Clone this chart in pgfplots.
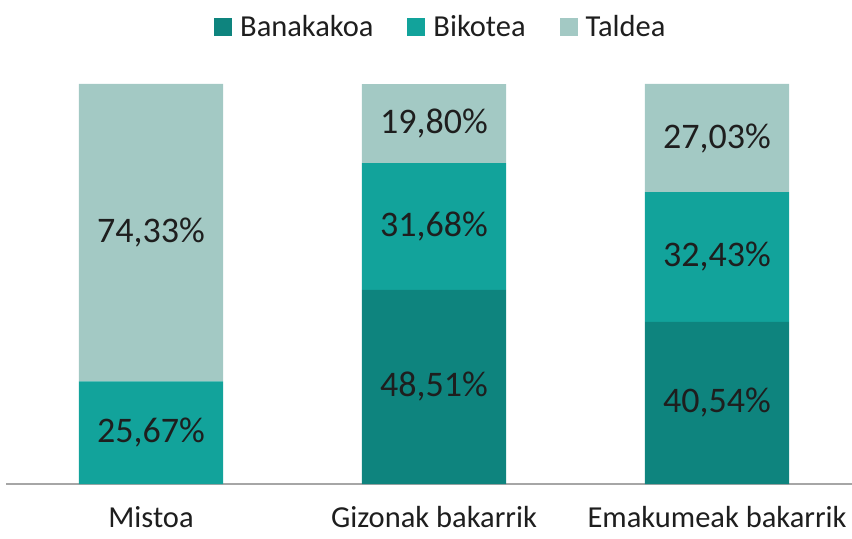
\documentclass[border=0pt]{standalone}
\usepackage{pgfplots}
\pgfplotsset{compat=1.18}
\usepackage{pgfplotstable}
\usepackage{fontspec}
\setmainfont{Carlito}
\definecolor{cBan}{RGB}{14,132,126}
\definecolor{cBik}{RGB}{18,163,155}
\definecolor{cTal}{RGB}{163,201,196}
\definecolor{ctext}{RGB}{30,30,30}
\definecolor{caxis}{RGB}{166,166,166}

\pgfplotstableread{
x ban bik tal
0 0     25.67 74.33
1 48.51 31.68 19.80
2 40.54 32.43 27.03
}\datatable

\pgfplotstableread{
x base val label
0 0     25.67 {25,67\%}
0 25.67 74.33 {74,33\%}
1 0     48.51 {48,51\%}
1 48.51 31.68 {31,68\%}
1 80.19 19.80 {19,80\%}
2 0     40.54 {40,54\%}
2 40.54 32.43 {32,43\%}
2 72.97 27.03 {27,03\%}
}\labeltable

\begin{document}
\begin{tikzpicture}
\path[use as bounding box] (0,0) rectangle (852bp,539bp);
\pgfplotsset{
  commonaxis/.style={
    at={(6bp,55bp)}, anchor=south west,
    scale only axis, width=846bp, height=400bp,
    xmin=-0.5124, xmax=2.477, ymin=0, ymax=100,
    clip=false,
  }
}
\begin{axis}[
  commonaxis,
  ybar stacked, bar width=0.509,
  axis x line*=bottom, axis y line=none,
  axis line style={-, draw=caxis, line width=1.3bp},
  xtick={0,1,2},
  xticklabels={Mistoa, Gizonak bakarrik, Emakumeak bakarrik},
  xtick style={draw=none},
  ytick=\empty,
  xticklabel style={font=\fontsize{30.5bp}{36bp}\selectfont, text=ctext, yshift=-19bp},
  legend columns=3,
  legend style={draw=none, fill=none, at={(0.514,1.1425)}, anchor=center,
    font=\fontsize{30.5bp}{36bp}\selectfont, text=ctext,
    /tikz/every odd column/.append style={column sep=6bp},
    /tikz/every even column/.append style={column sep=32bp}},
  legend image code/.code={\fill[#1] (0bp,-9bp) rectangle (18bp,9bp);},
]
\addplot[fill=cBan, draw=none] table[x=x, y=ban] {\datatable};
\addplot[fill=cBik, draw=none] table[x=x, y=bik] {\datatable};
\addplot[fill=cTal, draw=none] table[x=x, y=tal] {\datatable};
\legend{Banakakoa, Bikotea, Taldea}
\end{axis}
\begin{axis}[
  commonaxis,
  axis lines=none,
]
\addplot[draw=none, mark=none, nodes near coords, point meta=explicit symbolic,
  every node near coord/.append style={anchor=center, text=ctext,
    font=\fontsize{36bp}{42bp}\selectfont}]
  table[x=x, y expr=\thisrow{base}+\thisrow{val}/2, meta=label] {\labeltable};
\end{axis}
\end{tikzpicture}
\end{document}
